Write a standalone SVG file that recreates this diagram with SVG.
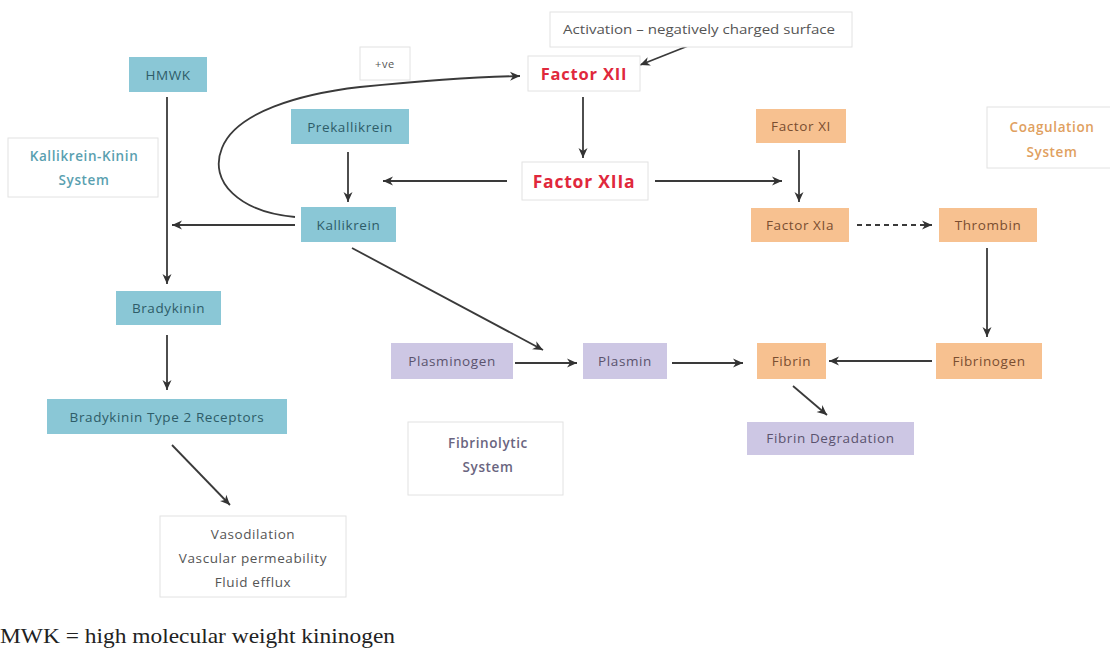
<svg xmlns="http://www.w3.org/2000/svg" width="1110" height="648" viewBox="0 0 1110 648">
<defs>
<marker id="ah" markerUnits="userSpaceOnUse" markerWidth="11" markerHeight="10" refX="10" refY="5" orient="auto">
<path d="M0,0.5 L10,5 L0,9.5 L3,5 Z" fill="#333"/>
</marker>
<style>
.t{font-family:"Open Sans",Lato,"Liberation Sans",sans-serif;font-size:13.5px;letter-spacing:0.6px;text-anchor:middle}
.teal{fill:#8ac7d6}
.tealt{fill:#2e5c68}
.org{fill:#f7c190}
.orgt{fill:#7a4e30}
.pur{fill:#cdc7e4}
.purt{fill:#5a536e}
.lbl{fill:#fff;stroke:#e2e2e2;stroke-width:1}
.sys{font-weight:600}
.red{fill:#e0283c;font-weight:bold;letter-spacing:0.8px}
.c{fill:none;stroke:#3a3a3a;stroke-width:1.8;marker-end:url(#ah)}
</style>
</defs>
<rect width="1110" height="648" fill="#fff"/>

<g id="connectors">
<path class="c" d="M698,42 L640,65"/>
<path class="c" d="M295,217 C240,212 208,182 222,148 C236,112 300,94 360,87 C420,81 470,77 520,76"/>
<path class="c" d="M583,97 L583,158"/>
<path class="c" d="M507,181 L383,181"/>
<path class="c" d="M655,181 L782,181"/>
<path class="c" d="M799,150 L799,202"/>
<path class="c" d="M857,225 L932,225" stroke-dasharray="5,4"/>
<path class="c" d="M987,248 L987,337"/>
<path class="c" d="M932,361 L829,361"/>
<path class="c" d="M672,363 L743,363"/>
<path class="c" d="M515,363 L577,363"/>
<path class="c" d="M352,248 L543,350"/>
<path class="c" d="M793,386 L827,415"/>
<path class="c" d="M348,152 L348,202"/>
<path class="c" d="M295,225 L172,225"/>
<path class="c" d="M167,97 L167,284"/>
<path class="c" d="M167,335 L167,390"/>
<path class="c" d="M172,445 L230,505"/>
</g>

<g id="activation">
<rect class="lbl" x="550" y="12" width="302" height="35"/>
<text class="t" x="699" y="34" fill="#555" style="font-size:13px;letter-spacing:0" textLength="272" lengthAdjust="spacingAndGlyphs">Activation – negatively charged surface</text>
</g>
<g id="pos">
<rect class="lbl" x="360" y="47" width="50" height="33"/>
<text class="t" x="385" y="68" fill="#555" style="font-size:11px">+ve</text>
</g>
<g id="factorXII">
<rect class="lbl" x="528" y="56" width="112" height="35"/>
<text class="t red" x="584" y="80" style="font-size:16.5px">Factor XII</text>
</g>
<g id="factorXIIa">
<rect class="lbl" x="522" y="162" width="126" height="38"/>
<text class="t red" x="584" y="188" style="font-size:17.5px">Factor XIIa</text>
</g>

<g id="hmwk">
<rect class="teal" x="129" y="57" width="78" height="35"/>
<text class="t tealt" x="168" y="79.5">HMWK</text>
</g>
<g id="kkLabel">
<rect class="lbl" x="8" y="138" width="150" height="59"/>
<text class="t sys" x="84" y="161" fill="#5a9fb0">Kallikrein-Kinin</text>
<text class="t sys" x="84" y="185" fill="#5a9fb0">System</text>
</g>
<g id="prekallikrein">
<rect class="teal" x="291" y="109" width="118" height="35"/>
<text class="t tealt" x="350" y="131.5">Prekallikrein</text>
</g>
<g id="kallikrein">
<rect class="teal" x="301" y="207" width="95" height="35"/>
<text class="t tealt" x="348.5" y="229.5">Kallikrein</text>
</g>
<g id="bradykinin">
<rect class="teal" x="116" y="291" width="105" height="34"/>
<text class="t tealt" x="168.5" y="312.5">Bradykinin</text>
</g>
<g id="bk2r">
<rect class="teal" x="47" y="399" width="240" height="35"/>
<text class="t tealt" x="167" y="421.5">Bradykinin Type 2 Receptors</text>
</g>
<g id="effects">
<rect class="lbl" x="160" y="516" width="186" height="81"/>
<text class="t" x="253" y="539" fill="#555">Vasodilation</text>
<text class="t" x="253" y="563" fill="#555">Vascular permeability</text>
<text class="t" x="253" y="587" fill="#555">Fluid efflux</text>
</g>

<g id="factorXI">
<rect class="org" x="756" y="109" width="90" height="34"/>
<text class="t orgt" x="801" y="130.5">Factor XI</text>
</g>
<g id="factorXIa">
<rect class="org" x="751" y="208" width="98" height="34"/>
<text class="t orgt" x="800" y="229.5">Factor XIa</text>
</g>
<g id="thrombin">
<rect class="org" x="939" y="208" width="98" height="34"/>
<text class="t orgt" x="988" y="229.5">Thrombin</text>
</g>
<g id="coagLabel">
<rect class="lbl" x="987" y="107" width="130" height="61"/>
<text class="t sys" x="1052" y="132" fill="#e0a060">Coagulation</text>
<text class="t sys" x="1052" y="157" fill="#e0a060">System</text>
</g>
<g id="fibrinogen">
<rect class="org" x="936" y="343" width="106" height="36"/>
<text class="t orgt" x="989" y="365.5">Fibrinogen</text>
</g>
<g id="fibrin">
<rect class="org" x="757" y="343" width="69" height="36"/>
<text class="t orgt" x="791.5" y="365.5">Fibrin</text>
</g>

<g id="plasminogen">
<rect class="pur" x="391" y="343" width="122" height="36"/>
<text class="t purt" x="452" y="365.5">Plasminogen</text>
</g>
<g id="plasmin">
<rect class="pur" x="583" y="343" width="84" height="36"/>
<text class="t purt" x="625" y="365.5">Plasmin</text>
</g>
<g id="fibrinDeg">
<rect class="pur" x="747" y="422" width="167" height="33"/>
<text class="t purt" x="830.5" y="443">Fibrin Degradation</text>
</g>
<g id="fibLabel">
<rect class="lbl" x="408" y="422" width="155" height="73"/>
<text class="t sys" x="488" y="448" fill="#6a6580">Fibrinolytic</text>
<text class="t sys" x="488" y="472" fill="#6a6580">System</text>
</g>

<g id="footnote">
<text x="0" y="643" font-family="'Liberation Serif','DejaVu Serif',serif" font-size="22" fill="#222" textLength="395" lengthAdjust="spacingAndGlyphs">MWK = high molecular weight kininogen</text>
</g>
</svg>
